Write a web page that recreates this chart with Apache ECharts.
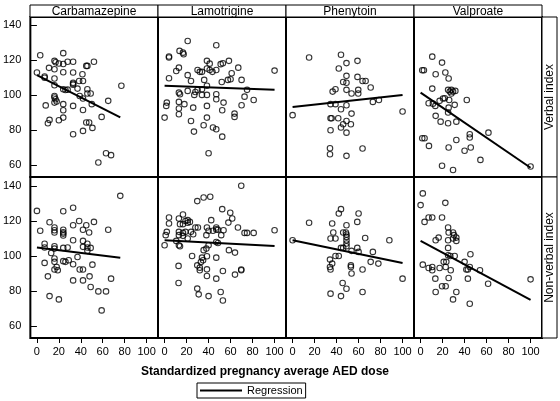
<!DOCTYPE html>
<html>
<head>
<meta charset="utf-8">
<script src="https://cdn.jsdelivr.net/npm/echarts@6/dist/echarts.min.js"></script>
<style>
html,body{margin:0;padding:0;background:#fff;}
#chart{width:560px;height:401px;}
</style>
</head>
<body>
<div id="chart"></div>
<script>
// ---- Data ----
const drugs = ['Carbamazepine', 'Lamotrigine', 'Phenytoin', 'Valproate'];
const outcomes = ['Verbal index', 'Non-verbal index'];
const xTicks = [0, 20, 40, 60, 80, 100];
const yTicks = [60, 80, 100, 120, 140];
const xTitle = 'Standardized pregnancy average AED dose';
const legendName = 'Regression';

const cbzVerbal = [[3,122.7],[24,123.9],[16,119.5],[17,118.7],[20,118],[24,117.7],[28,119],[33,119],[52,119],[11,115.5],[16,114.7],[45,116.6],[46,116.6],[0,112.8],[7,110.5],[7,109.8],[24,113],[33,112.8],[41.5,111.8],[16,109.4],[38.5,108],[42,108],[33,107],[33,106.4],[33,105.8],[24,103.2],[26,102.8],[28,103],[37,103.6],[46,103.2],[46,100.8],[49,100.8],[16,105.5],[16,99.4],[16,98.5],[17,97.5],[39,99.4],[42,97.9],[77,105.2],[65,96.6],[8,94],[18,96.2],[16,95.6],[24,94.7],[33,93.7],[24,91.2],[42,91.4],[50,94.7],[59,87.4],[24,87],[20,85.5],[11.5,85.7],[10,83.8],[45,84.2],[47.6,84.2],[50.6,81.1],[42,79.4],[33,77.5],[56,61.3],[63,66.6],[67.6,65.5]];
const cbzVerbalFit = [[0,111.3],[76,87.1]];

const cbzNonverbal = [[0,125.8],[3,114.4],[7,107],[7,104.8],[11.5,119.3],[11.5,77],[10,88.3],[7,96],[13,101.7],[16,116.3],[16,114.7],[16,113.4],[16,105.5],[16,104.2],[16,98.5],[16,96.6],[16,92.2],[18,93.7],[19,91.8],[20,75.1],[24,125.6],[24,115],[24,113.6],[24,112.8],[24,111.7],[24,104.6],[24,97],[26,96.6],[29,97.5],[28,104.8],[33,127.6],[33,117.6],[33,109],[33,95.2],[33,86],[38.5,120],[37,99.4],[39,92.2],[42,92.2],[42,115],[42,108.6],[42,105.2],[42,86],[45,117.6],[46,107],[46,104.8],[46,102.9],[47.6,113.4],[49,104.6],[50.6,95],[52,119.5],[48,88.3],[49,82.2],[56,79.7],[63,79.7],[59,68.8],[65,115],[67.6,87],[76,134.4]];
const cbzNonverbalFit = [[0,104.8],[76,98.9]];

const ltgVerbal = [[21,130.9],[47,128.4],[4,122],[4,121.4],[13.6,125.2],[16.7,124.2],[17.3,123.3],[10.6,113.7],[13,115.6],[4,109.5],[21,111.3],[24,108],[30,114.3],[32,113.2],[34,113.2],[36,108.6],[38.5,119.5],[41,117.9],[38.5,115.1],[41,114.3],[43.5,113.2],[47,114.3],[51,117.6],[53,118.1],[58.5,119.5],[52,107.4],[57.6,108.6],[60,109],[61,112.4],[67,115.6],[70,108.6],[100,113.9],[38.5,105.2],[34,103.2],[30,102.9],[28,101.7],[13,101.3],[14,100.4],[21,102.3],[27,100],[34,100],[38.5,100],[47,100.4],[47,97.5],[53.6,95.6],[75,102.9],[72.7,99],[81,97.1],[70,94.1],[52.4,91.2],[63.6,89.3],[63.6,87.4],[2,95.6],[1.5,93.7],[0,87],[13,96],[13,92.2],[13,88.9],[18,94.7],[26,92.7],[38.5,93.7],[24,85.1],[38.5,87],[26.7,79],[35.5,82.6],[44,81.3],[47,80.3],[52.4,76.1],[40,66.6]];
const ltgVerbalFit = [[0,105.2],[100,102.9]];

const ltgNonverbal = [[69.7,140.2],[29.7,131.4],[35.5,133.5],[41.5,133.9],[52.4,126.8],[59.7,124.7],[61.5,121.4],[58,119.1],[42.4,120.5],[4,122],[4,118.6],[13,121.4],[16.7,123.7],[19,120],[21,120.5],[23,119.5],[21,119],[14,118.2],[16.7,118.2],[66.7,116.3],[2,113.8],[1,111.9],[0,106.1],[13,113.8],[13,111.9],[16.7,113.2],[16.7,111.5],[19,113.8],[21,110],[24,113.8],[26,112.4],[28,116.3],[30.3,116.3],[38.5,116.3],[40,114.4],[38,111.9],[44,114.4],[47,115.2],[47,116.3],[48.5,115],[51.5,111.9],[53.6,114.7],[72.7,113.2],[75,113.2],[81,113.2],[100,114.7],[10.6,108.6],[13,106.1],[14,105.5],[47,108],[48.5,107.4],[40,106.1],[35.5,103.3],[38,104.2],[58.5,103.3],[64,101.9],[25,100],[34,99],[35,97.5],[33,96.5],[38.5,99.8],[47,99],[12.7,94.3],[29.7,94.6],[32,93.3],[32,91.8],[38.5,92.3],[38.5,88.5],[53,91.4],[47,87],[64,89.3],[69.7,91.8],[69.7,92.2],[12.7,84.5],[29.7,81.3],[31,78],[40,77],[51,79.3],[53,74.5]];
const ltgNonverbalFit = [[0,109],[100,105.7]];

const phtVerbal = [[15,121.4],[44,123],[49,118.2],[59,119.5],[42,115.1],[0,88.4],[100,90.5],[49,110.9],[46,107.4],[49,107],[59,110.3],[63.6,108],[66.4,108],[71,104.2],[36.4,101.9],[39,103.2],[49,102.9],[53.6,100.8],[59.7,100.8],[59.7,102.9],[73,96],[78.5,97.1],[34.5,94.7],[39,94.7],[49,94.1],[44,91.8],[53.6,89.3],[34.5,86.6],[35.5,86.6],[41.5,86.6],[49,85.1],[46,83.2],[53,83.2],[44,81.3],[34.5,79.8],[49,78.4],[34,69.5],[34,66],[63.6,69.3],[49,65.1]];
const phtVerbalFit = [[0,93.1],[100,100]];

const phtNonverbal = [[0,109],[15,119],[44,126.8],[42,124.3],[60,124.3],[58.8,119.5],[36,118.6],[49,117.6],[37,113.4],[46,113.4],[48.5,113.4],[49,112.3],[49,110.9],[49,109],[49,107.1],[49,105.5],[34.5,110],[39,110],[66,110.3],[88,109],[44,104.6],[46,104.6],[53.6,102.9],[58.8,104.6],[60,102.3],[73,102.3],[39,100],[42,100],[34,97.9],[36,95.6],[34,93.7],[34.5,92.2],[53,94.6],[53,93.7],[71,96.6],[78,95.6],[63.6,92.2],[53.6,89.9],[100,87],[45.5,84.5],[49,81.2],[34.5,78.4],[44,77],[63.6,79.3]];
const phtNonverbalFit = [[0,109],[100,96]];

const vpaVerbal = [[10.6,121.9],[19.5,118.5],[1.5,114.1],[3,114.1],[13.7,111.8],[22.5,112.8],[25.5,109.4],[10.6,103.6],[25,102.9],[26.5,101.9],[28,102.9],[29.5,101.9],[31.6,102.3],[28,100.8],[42,97.1],[7.3,95.2],[11.2,95],[13.4,93.7],[17.3,96.6],[20.4,97.9],[22,98.1],[26,97.1],[31,94.3],[25.5,92.7],[25,89.9],[13.7,88],[18.2,84.7],[25,83.8],[32.5,84.7],[44.7,77.5],[44.7,75.6],[45.6,69.9],[61.7,78.4],[1.5,75.2],[3.6,75.2],[7.6,70.8],[25.5,69.9],[32.5,74.2],[40,68],[54.4,62.8],[19.5,59.4],[29.5,57],[100,59]];
const vpaVerbalFit = [[0,101.3],[100,58.3]];

const vpaNonverbal = [[2,135.8],[0,129.1],[3.6,119.5],[7.3,122],[10.6,122],[19.5,122],[22.5,130.4],[25,116.3],[25.5,113.4],[29.5,113.4],[30.4,111.9],[32.5,110.5],[32.5,108.6],[29.5,110],[13.7,109],[16.4,110.5],[25,109],[25,104.6],[25,100.4],[27,100],[31,100],[45.3,101],[2,95],[7.3,93.1],[10.6,93.7],[10.6,91.8],[17.3,93.1],[21,96.6],[23.4,96.6],[22.8,93.7],[27.4,91.8],[40,96.6],[41.6,92.2],[43,92.2],[44.7,93.7],[54,91.8],[13.4,87],[25.5,87.4],[43,87],[19.5,82.6],[22.8,82.6],[61.4,84.1],[13.7,79.3],[32.5,79.3],[29.5,75.1],[44.7,72.6],[100,86.6]];
const vpaNonverbalFit = [[0,108.6],[100,74.9]];

// ---- Layout ----
const FONT = '"Liberation Sans", Arial, Helvetica, sans-serif';
const panelPoints = [
  [cbzVerbal, ltgVerbal, phtVerbal, vpaVerbal],
  [cbzNonverbal, ltgNonverbal, phtNonverbal, vpaNonverbal]
];
const panelFits = [
  [cbzVerbalFit, ltgVerbalFit, phtVerbalFit, vpaVerbalFit],
  [cbzNonverbalFit, ltgNonverbalFit, phtNonverbalFit, vpaNonverbalFit]
];
const colLeft = [30, 158, 286, 414];
const colW = 128;
const rowTop = [17, 177];
const rowH = [160, 161];
const yRange = [[53, 144.6], [53, 145.2]];
const xRange = [-6, 110.4];

const grids = [], xAxes = [], yAxes = [], series = [];
for (let r = 0; r < 2; r++) {
  for (let c = 0; c < 4; c++) {
    const idx = r * 4 + c;
    grids.push({
      left: colLeft[c], top: rowTop[r], width: colW, height: rowH[r],
      show: true, borderColor: '#000', borderWidth: 2, backgroundColor: '#fff'
    });
    xAxes.push({
      gridIndex: idx, type: 'value', min: xRange[0], max: xRange[1],
      axisLine: { show: false }, splitLine: { show: false },
      axisTick: { show: r === 1, customValues: xTicks, length: 5, lineStyle: { color: '#000', width: 1 } },
      axisLabel: { show: r === 1, customValues: xTicks, margin: 8, fontSize: 11, color: '#000', fontFamily: FONT }
    });
    yAxes.push({
      gridIndex: idx, type: 'value', min: yRange[r][0], max: yRange[r][1],
      axisLine: { show: false }, splitLine: { show: false },
      axisTick: { show: c === 0, customValues: yTicks, length: 6, lineStyle: { color: '#000', width: 1 } },
      axisLabel: { show: c === 0, customValues: yTicks, margin: 9, fontSize: 11, color: '#000', fontFamily: FONT }
    });
    series.push({
      type: 'scatter', name: drugs[c] + ' ' + outcomes[r],
      xAxisIndex: idx, yAxisIndex: idx,
      data: panelPoints[r][c], symbol: 'circle', symbolSize: 5.5,
      itemStyle: { color: 'rgba(0,0,0,0)', borderColor: '#000', borderWidth: 1.1 },
      silent: true, z: 3
    });
    series.push({
      type: 'line', name: legendName,
      xAxisIndex: idx, yAxisIndex: idx,
      data: panelFits[r][c], symbol: 'none', showSymbol: false,
      lineStyle: { color: '#000', width: 2 }, itemStyle: { color: '#000' },
      silent: true, z: 4
    });
  }
}

const graphics = [];
for (let c = 0; c < 4; c++) {
  graphics.push({
    type: 'rect', shape: { x: colLeft[c], y: 5, width: colW, height: 12 },
    style: { fill: '#fff', stroke: '#000', lineWidth: 1 }, z: 10
  });
  graphics.push({
    type: 'text', x: colLeft[c] + colW / 2, y: 11.5,
    style: { text: drugs[c], font: '12px ' + FONT, fill: '#000', align: 'center', verticalAlign: 'middle' }, z: 11
  });
}
for (let r = 0; r < 2; r++) {
  graphics.push({
    type: 'rect', shape: { x: 542, y: rowTop[r], width: 15, height: rowH[r] },
    style: { fill: '#fff', stroke: '#000', lineWidth: 1 }, z: 10
  });
  graphics.push({
    type: 'text', x: 550, y: rowTop[r] + rowH[r] / 2, rotation: Math.PI / 2,
    style: { text: outcomes[r], font: '12px ' + FONT, fill: '#000', align: 'center', verticalAlign: 'middle' }, z: 11
  });
}
graphics.push({
  type: 'text', x: 265, y: 372,
  style: { text: xTitle, font: 'bold 12px ' + FONT, fill: '#000', align: 'center', verticalAlign: 'middle' }, z: 11
});

const chart = echarts.init(document.getElementById('chart'), null, { renderer: 'canvas' });
chart.setOption({
  animation: false,
  backgroundColor: '#fff',
  grid: grids,
  xAxis: xAxes,
  yAxis: yAxes,
  series: series,
  legend: {
    data: [{ name: legendName, icon: 'rect' }], left: 197, top: 383,
    itemWidth: 42, itemHeight: 2, itemGap: 5,
    padding: [1, 3, 1, 3], borderColor: '#000', borderWidth: 1,
    backgroundColor: '#fff', selectedMode: false,
    itemStyle: { color: '#000', borderWidth: 0 },
    textStyle: { fontSize: 11, color: '#000', fontFamily: FONT, lineHeight: 13 }
  },
  graphic: graphics
});
</script>
</body>
</html>
